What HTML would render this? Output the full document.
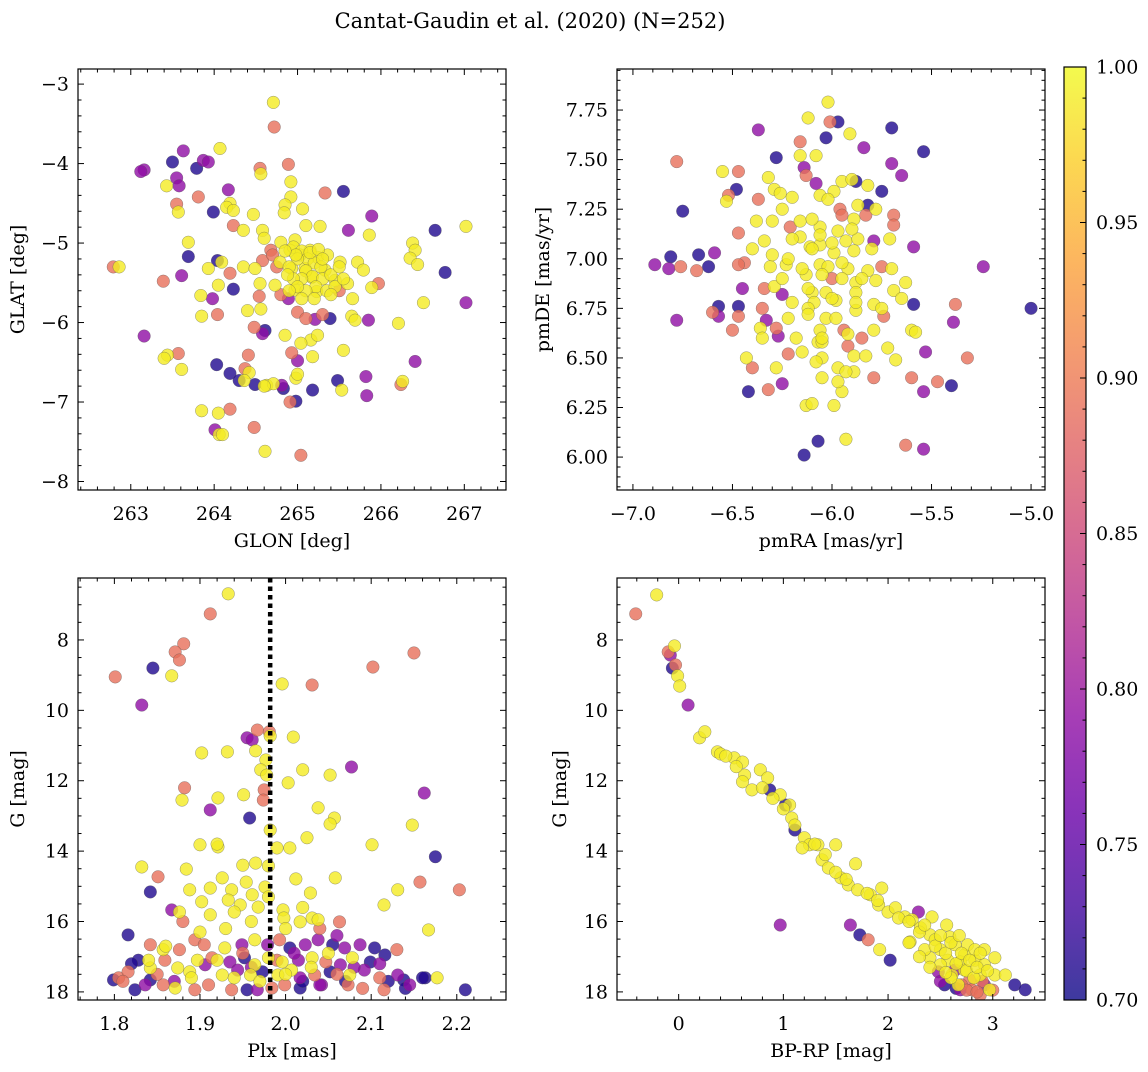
<!DOCTYPE html>
<html><head><meta charset="utf-8">
<style>
html,body{margin:0;padding:0;background:#fff;}
svg text{font-family:"DejaVu Serif","Liberation Serif",serif;fill:#000;}
</style></head>
<body>
<svg id="fig" xmlns="http://www.w3.org/2000/svg" width="1148" height="1067" viewBox="0 0 1148 1067">
<rect width="1148" height="1067" fill="#fff"/>
<text x="530" y="28" font-size="21" text-anchor="middle">Cantat-Gaudin et al. (2020) (N=252)</text>
<g id="layer"></g>
</svg>
<script>
// ---- Panel 1: GLON / GLAT ----
const p1Lon=[264.71,264.72,263.63,263.50,263.79,263.16,263.55,264.07,263.87,263.93,264.55,264.89,264.56,264.17,263.43,263.58,264.92,265.33,265.55,264.92,263.81,264.19,263.55,263.57,263.99,264.85,264.15,264.23,264.47,264.84,265.06,265.27,265.89,265.61,264.23,263.69,264.35,264.58,265.10,265.86,266.65,267.02,266.38,266.41,264.60,264.80,264.97,264.68,264.91,265.03,265.15,265.24,265.36,265.51,265.72,264.79,264.58,264.09,264.04,263.69,262.79,262.86,263.39,263.61,264.35,264.49,263.93,264.19,264.93,265.09,265.17,265.33,265.45,265.60,265.79,265.97,266.35,266.44,266.77,264.55,264.73,264.97,265.23,264.23,263.84,263.98,264.05,264.54,264.89,265.66,266.51,267.02,265.89,263.85,264.04,264.56,264.40,265.00,265.10,265.39,265.65,265.69,266.21,265.85,265.21,263.16,264.48,264.58,264.61,264.85,265.16,265.24,265.55,263.57,263.44,263.61,264.03,264.41,264.93,265.00,265.04,265.18,266.41,264.37,264.42,264.19,264.36,264.30,264.49,264.63,264.71,264.81,264.83,264.98,265.00,265.18,265.48,265.53,265.82,265.83,266.26,266.24,264.98,264.91,263.85,264.05,264.19,264.01,264.06,264.10,264.48,264.61,265.04,
264.95,265.05,265.12,265.20,265.28,265.00,264.90,265.10,265.18,265.30,265.40,265.05,264.95,265.22,265.35,265.45,265.10,264.98,265.15,265.25,264.85,264.88,265.00,265.30,265.50,265.40,265.20,265.05,264.90,265.55,264.70,264.75,265.50,264.80,265.30,263.40,264.60,263.12];
const p1Lat=[-3.23,-3.54,-3.84,-3.98,-4.06,-4.08,-4.18,-3.81,-3.96,-3.98,-4.06,-4.01,-4.13,-4.33,-4.28,-4.28,-4.23,-4.37,-4.35,-4.42,-4.42,-4.50,-4.51,-4.61,-4.61,-4.52,-4.55,-4.59,-4.64,-4.62,-4.57,-4.79,-4.66,-4.84,-4.78,-4.99,-4.84,-4.84,-4.78,-4.90,-4.84,-4.79,-5.00,-5.09,-4.94,-4.99,-4.96,-5.09,-5.09,-5.15,-5.09,-5.18,-5.15,-5.24,-5.24,-5.24,-5.22,-5.24,-5.22,-5.17,-5.30,-5.30,-5.48,-5.41,-5.30,-5.32,-5.32,-5.38,-5.32,-5.32,-5.43,-5.34,-5.47,-5.51,-5.34,-5.51,-5.19,-5.27,-5.37,-5.51,-5.53,-5.59,-5.61,-5.58,-5.66,-5.70,-5.53,-5.67,-5.70,-5.70,-5.75,-5.75,-5.56,-5.92,-5.90,-5.83,-5.85,-5.87,-5.95,-5.95,-5.92,-5.97,-6.01,-5.97,-5.96,-6.17,-6.06,-6.14,-6.10,-6.16,-6.22,-6.16,-6.35,-6.39,-6.41,-6.59,-6.53,-6.41,-6.38,-6.48,-6.26,-6.43,-6.49,-6.58,-6.63,-6.64,-6.73,-6.73,-6.78,-6.79,-6.77,-6.79,-6.83,-6.70,-6.65,-6.85,-6.73,-6.85,-6.68,-6.92,-6.74,-6.78,-6.99,-7.00,-7.11,-7.14,-7.09,-7.35,-7.41,-7.41,-7.32,-7.62,-7.67,
-5.05,-5.10,-5.20,-5.25,-5.30,-5.20,-5.30,-5.35,-5.42,-5.45,-5.40,-5.45,-5.45,-5.55,-5.60,-5.55,-5.60,-5.15,-5.12,-5.08,-5.10,-5.40,-5.55,-5.20,-5.30,-5.65,-5.70,-5.70,-5.60,-5.45,-5.15,-5.30,-5.60,-5.65,-5.90,-6.45,-6.80,-4.10];
const p1Prob=[.99,.89,.79,.71,.71,.79,.79,.99,.79,.79,.89,.89,.99,.79,.99,.79,.99,.89,.71,.99,.89,.99,.89,.99,.71,.99,.99,.99,.99,.99,.99,.99,.79,.79,.89,.99,.99,.99,.99,.99,.71,.99,.99,.99,.99,.99,.99,.89,.99,.99,.99,.99,.99,.99,.99,.99,.89,.99,.71,.71,.89,.99,.89,.79,.99,.99,.99,.89,.99,.99,.99,.99,.99,.99,.99,.89,.99,.99,.71,.99,.99,.99,.99,.71,.99,.79,.99,.89,.79,.99,.99,.79,.99,.99,.89,.99,.99,.89,.89,.71,.99,.99,.99,.79,.79,.79,.89,.79,.71,.99,.99,.99,.99,.89,.99,.99,.71,.89,.89,.79,.99,.99,.79,.89,.99,.71,.99,.71,.71,.99,.99,.79,.71,.99,.99,.71,.71,.99,.79,.79,.99,.89,.71,.89,.99,.99,.89,.79,.99,.99,.89,.99,.89,
.99,.99,.99,.99,.99,.99,.99,.99,.99,.99,.99,.99,.99,.99,.99,.99,.99,.99,.99,.99,.99,.99,.99,.99,.99,.99,.99,.99,.99,.99,.89,.89,.89,.89,.89,.99,.99,.79];
const p1XTicks=[263,264,265,266,267];
const p1YTicks=[-3,-4,-5,-6,-7,-8];

// ---- Panel 2: pmRA / pmDE ----
const p2Pmra=[-6.02,-5.97,-6.01,-5.91,-6.12,-6.37,-5.70,-6.03,-6.16,-5.84,-6.78,-6.28,-6.16,-6.08,-5.54,-5.70,-6.14,-6.13,-5.65,-6.55,-6.47,-6.32,-6.48,-6.08,-5.95,-5.88,-5.82,-5.75,-6.52,-6.53,-6.29,-6.26,-6.20,-6.06,-5.99,-6.37,-5.96,-5.87,-5.82,-6.75,-6.38,-6.30,-6.21,-6.16,-5.89,-5.83,-5.69,-5.69,-6.06,-5.97,-6.47,-6.34,-6.16,-5.93,-5.87,-5.79,-5.71,-6.11,-6.06,-5.99,-5.89,-5.59,-6.59,-6.67,-6.81,-6.44,-6.31,-6.23,-6.06,-6.02,-5.92,-5.82,-5.75,-6.89,-6.82,-6.68,-6.76,-5.24,-6.62,-6.47,-6.13,-5.95,-5.88,-5.63,-5.78,-6.29,-6.34,-6.25,-6.10,-6.03,-5.88,-5.69,-6.09,-5.98,-5.65,-5.38,-6.57,-6.47,-6.57,-6.47,-6.12,-5.88,-5.79,-5.59,-5.00,-6.78,-6.60,-6.33,-6.22,-6.03,-5.74,-5.39,-6.50,-6.36,-6.28,-6.06,-5.94,-5.79,-5.60,-5.58,-6.27,-6.07,-6.05,-5.92,-5.72,-6.43,-6.40,-6.15,-6.05,-5.89,-5.83,-5.53,-5.32,-5.97,-5.89,-5.68,-6.05,-5.79,-5.93,-5.60,-5.47,-5.40,-6.32,-6.25,-6.42,-5.95,-5.54,-6.13,-6.10,-5.99,-6.07,-5.93,-6.14,-5.63,-5.54,
-6.10,-6.00,-5.95,-6.05,-6.15,-6.20,-5.90,-6.10,-5.85,-6.25,-6.00,-6.12,-5.98,-6.20,-6.30,-5.80,-5.75,-6.05,-5.92,-6.18,-6.35,-6.25,-6.02,-5.90,-6.40,-6.08,-5.97,-6.22,-5.85,-6.45,-6.00,-5.70,-6.35,-6.28,-5.78,-6.12,-5.88,-6.22,-5.95,-6.06];
const p2Pmde=[7.79,7.69,7.69,7.63,7.71,7.65,7.66,7.61,7.59,7.56,7.49,7.51,7.52,7.52,7.54,7.48,7.46,7.42,7.42,7.44,7.44,7.41,7.35,7.38,7.39,7.39,7.37,7.34,7.32,7.29,7.35,7.33,7.31,7.32,7.34,7.30,7.25,7.27,7.27,7.24,7.19,7.19,7.16,7.19,7.20,7.22,7.22,7.17,7.16,7.14,7.13,7.09,7.11,7.09,7.10,7.09,7.10,7.06,7.07,7.03,7.04,7.06,7.03,7.02,7.01,6.98,6.96,6.97,6.97,6.96,6.95,6.94,6.96,6.97,6.95,6.94,6.96,6.96,6.96,6.97,6.92,6.90,6.88,6.88,6.89,6.86,6.85,6.82,6.83,6.83,6.83,6.84,6.78,6.79,6.80,6.77,6.76,6.76,6.71,6.71,6.75,6.74,6.77,6.77,6.75,6.69,6.73,6.69,6.70,6.70,6.71,6.68,6.64,6.65,6.65,6.64,6.64,6.64,6.64,6.63,6.61,6.58,6.58,6.56,6.55,6.50,6.45,6.53,6.50,6.51,6.51,6.53,6.50,6.45,6.43,6.49,6.40,6.40,6.43,6.40,6.38,6.36,6.34,6.37,6.33,6.33,6.33,6.26,6.27,6.26,6.08,6.09,6.01,6.06,6.04,
7.05,7.08,6.98,6.92,6.95,7.10,7.15,7.20,6.90,6.90,6.80,6.72,6.70,6.78,7.02,7.05,6.75,6.60,6.62,6.60,6.75,7.25,7.30,7.40,7.05,6.48,6.38,6.52,6.60,6.85,6.90,6.95,6.60,6.45,7.25,6.85,6.78,7.00,7.22,7.12];
const p2Prob=[.99,.71,.89,.99,.99,.79,.71,.71,.89,.79,.89,.71,.99,.99,.71,.79,.79,.89,.79,.99,.89,.99,.71,.79,.99,.71,.99,.71,.89,.99,.99,.99,.99,.99,.99,.89,.89,.99,.71,.71,.99,.99,.89,.99,.99,.89,.89,.89,.99,.99,.89,.99,.99,.99,.99,.79,.99,.99,.99,.99,.99,.79,.79,.71,.71,.89,.99,.99,.99,.99,.99,.99,.89,.79,.79,.89,.89,.79,.71,.89,.99,.99,.99,.99,.99,.99,.89,.79,.99,.99,.99,.99,.99,.99,.99,.89,.71,.71,.79,.89,.99,.99,.99,.71,.71,.79,.89,.79,.99,.99,.89,.79,.89,.99,.89,.99,.89,.99,.99,.99,.79,.99,.99,.89,.99,.99,.89,.99,.99,.99,.99,.79,.89,.99,.99,.99,.99,.89,.99,.89,.89,.71,.89,.79,.71,.99,.79,.99,.99,.99,.71,.99,.71,.89,.79,
.99,.99,.99,.99,.99,.99,.99,.99,.99,.99,.99,.99,.99,.99,.99,.99,.99,.99,.99,.99,.89,.99,.99,.99,.99,.99,.99,.89,.89,.79,.89,.99,.99,.99,.99,.99,.99,.99,.89,.99];
const p2XTicks=[-7.0,-6.5,-6.0,-5.5,-5.0];
const p2YTicks=[6.00,6.25,6.50,6.75,7.00,7.25,7.50,7.75];

// ---- Panel 3: Plx / G ----
const p3Plx=[1.933,1.912,1.845,1.801,1.881,1.871,1.876,1.867,1.832,2.150,2.102,1.996,2.031,1.967,1.981,1.982,1.955,1.961,2.009,1.902,1.932,1.965,1.977,1.971,2.020,2.003,1.975,1.978,2.052,2.077,2.038,2.057,2.052,1.882,1.879,1.921,1.951,1.974,1.912,1.958,1.900,1.982,2.025,2.005,1.990,2.101,2.148,2.162,2.175,1.921,1.832,1.851,1.884,1.926,1.954,1.965,1.980,2.012,2.058,1.842,1.888,1.912,1.937,1.961,1.976,2.029,2.131,2.203,2.115,2.157,1.902,1.933,1.947,1.968,1.997,1.867,1.876,1.912,1.940,1.998,2.031,2.038,2.017,2.063,2.167,1.816,1.842,1.857,1.876,1.894,1.905,1.929,1.949,1.964,1.979,1.993,2.005,2.023,2.038,2.055,2.069,2.087,2.104,2.116,1.897,1.914,1.935,1.952,1.964,1.980,1.996,2.015,2.031,2.047,2.064,2.078,2.099,1.828,1.842,1.859,1.874,1.888,1.906,1.926,1.944,1.959,1.973,1.991,2.007,2.017,2.034,2.052,2.075,2.092,2.110,2.131,2.163,2.177,2.138,1.799,1.805,1.816,1.836,1.842,1.857,1.871,1.824,1.894,1.937,1.955,1.967,1.984,1.999,2.017,2.042,2.073,2.115,2.145,2.210,
1.82,1.85,1.87,1.89,1.91,1.92,1.94,1.95,1.96,1.97,1.99,2.00,2.01,2.02,2.03,2.04,2.05,2.06,2.07,2.08,2.09,2.11,2.12,2.14,1.93,1.96,2.00,2.02,1.90,1.88,1.98,2.04,1.95,1.92,1.86,1.84,2.13,2.16,1.81,2.06];
const p3G=[6.69,7.26,8.80,9.05,8.11,8.34,8.57,9.02,9.85,8.37,8.77,9.25,9.28,10.56,10.61,10.73,10.78,10.84,10.76,11.21,11.18,11.15,11.41,11.69,11.69,12.06,12.26,11.84,11.84,11.61,12.77,13.06,13.23,12.20,12.55,12.49,12.40,12.55,12.83,13.06,13.82,13.40,13.62,13.91,13.91,13.82,13.26,12.35,14.16,13.88,14.45,14.73,14.51,14.76,14.88,14.34,14.42,14.79,14.76,15.16,15.10,15.05,15.10,15.24,15.02,15.19,15.10,15.10,15.53,14.88,15.44,15.39,15.53,15.59,15.67,15.67,15.73,15.81,15.73,15.90,15.90,15.95,16.01,16.01,16.24,16.38,16.66,16.80,16.80,16.52,16.66,16.75,16.66,16.52,16.66,16.52,16.75,16.66,16.52,16.66,16.75,16.66,16.75,16.95,17.10,17.03,17.15,17.03,17.23,17.03,17.15,17.10,17.03,17.15,17.23,17.03,17.15,17.10,17.32,17.10,17.32,17.43,17.23,17.52,17.38,17.52,17.43,17.52,17.38,17.60,17.52,17.43,17.52,17.38,17.60,17.52,17.60,17.60,17.66,17.66,17.60,17.43,17.80,17.66,17.80,17.89,17.94,17.94,17.94,17.94,17.94,17.89,17.80,17.89,17.80,17.80,17.94,17.80,17.94,
17.2,17.5,17.7,17.6,17.8,17.1,17.6,16.9,17.3,17.7,17.1,17.5,16.9,17.7,17.3,17.8,16.9,17.5,17.7,17.3,17.9,17.2,17.7,17.9,16.2,16.0,16.2,15.6,16.3,16.0,15.3,16.2,14.4,13.8,16.7,17.1,16.8,17.6,17.7,16.4];
const p3Prob=[.99,.89,.71,.89,.89,.89,.89,.99,.79,.89,.89,.99,.89,.89,.89,.99,.79,.79,.99,.99,.99,.99,.99,.99,.99,.99,.89,.99,.99,.79,.99,.99,.99,.89,.99,.99,.99,.89,.79,.71,.99,.99,.99,.99,.99,.99,.99,.79,.71,.99,.99,.89,.99,.99,.99,.99,.99,.99,.99,.71,.99,.99,.99,.99,.99,.99,.99,.89,.99,.89,.99,.99,.99,.99,.99,.79,.99,.99,.99,.99,.99,.99,.99,.89,.99,.71,.89,.99,.89,.89,.89,.99,.79,.99,.79,.89,.71,.79,.79,.71,.79,.79,.71,.71,.99,.89,.79,.71,.99,.99,.99,.79,.99,.89,.79,.99,.71,.71,.99,.89,.99,.99,.79,.99,.79,.99,.71,.99,.99,.79,.89,.71,.99,.79,.89,.79,.71,.99,.71,.71,.89,.89,.79,.71,.89,.99,.71,.89,.89,.71,.79,.89,.89,.71,.79,.89,.89,.79,.71,
.71,.89,.79,.99,.89,.99,.99,.89,.79,.99,.89,.99,.79,.71,.99,.79,.99,.89,.71,.79,.89,.79,.71,.71,.99,.99,.99,.99,.99,.89,.99,.89,.99,.99,.99,.99,.89,.71,.89,.79];
const p3XTicks=[1.8,1.9,2.0,2.1,2.2];
const p3YTicks=[8,10,12,14,16,18];
const p3MeanPlx=[1.982];

// ---- Panel 4: BP-RP / G ----
const p4Color=[-0.41,-0.21,-0.10,-0.08,-0.04,-0.06,-0.03,-0.01,0.01,0.09,0.20,0.25,0.37,0.40,0.53,0.61,0.63,0.61,0.78,0.85,0.70,0.87,0.97,1.06,1.02,1.08,1.11,1.11,1.20,1.25,1.18,1.33,1.37,1.50,1.43,1.55,1.69,1.62,1.71,1.94,1.83,1.91,2.00,2.07,2.16,2.23,2.31,2.40,2.42,2.56,2.59,2.29,0.97,1.64,1.73,1.81,1.92,2.02,2.45,2.50,2.64,2.73,2.69,2.57,2.50,2.48,2.61,2.73,2.83,2.92,2.88,2.78,2.67,2.80,2.92,3.02,3.12,2.97,3.21,3.31,2.88,2.76,2.83,2.92,2.54,2.69,2.40,2.64,2.35,3.02,2.21,
2.10,2.20,2.30,2.35,2.45,2.50,2.55,2.60,2.65,2.70,2.75,2.78,2.82,2.85,2.90,2.95,2.60,2.70,2.75,2.85,2.40,2.55,2.30,2.20,1.80,1.90,1.50,1.60,1.30,1.40,0.90,0.80,1.00,0.55,0.45,2.65,2.50,3.00,2.88,2.68];
const p4G=[7.26,6.72,8.34,8.43,8.17,8.80,8.71,9.02,9.31,9.85,10.78,10.61,11.18,11.24,11.35,11.47,11.84,12.03,11.69,11.92,12.26,12.26,12.40,12.69,12.69,13.06,13.26,13.40,13.62,13.82,13.91,13.82,14.25,13.82,14.48,14.76,14.36,14.96,15.10,15.05,15.24,15.53,15.73,15.61,15.87,15.95,16.18,16.38,15.87,16.10,16.44,15.73,16.10,16.10,16.38,16.52,16.80,17.10,16.52,16.80,16.66,16.95,17.15,17.10,17.23,17.43,17.52,17.38,17.10,17.23,17.52,17.66,17.80,17.94,17.80,17.52,17.52,17.94,17.80,17.94,18.09,16.66,16.80,16.80,17.80,17.94,17.03,17.38,16.80,17.03,16.58,
15.9,16.0,16.3,16.1,16.7,16.4,16.9,16.6,17.2,16.9,17.4,17.1,17.6,17.3,17.7,17.4,17.6,17.8,17.95,18.0,17.3,17.45,17.0,16.6,15.2,15.4,14.6,14.8,13.8,14.1,12.5,12.2,12.8,11.6,11.3,17.9,17.7,17.95,16.9,16.4];
const p4Prob=[.89,.99,.89,.79,.99,.71,.89,.99,.99,.79,.99,.99,.99,.99,.99,.99,.99,.99,.99,.99,.99,.71,.99,.99,.71,.99,.99,.71,.99,.99,.99,.99,.99,.99,.99,.99,.99,.99,.99,.99,.99,.99,.99,.99,.99,.99,.99,.99,.99,.99,.99,.79,.79,.79,.71,.89,.99,.71,.99,.99,.99,.99,.99,.99,.99,.79,.99,.99,.99,.99,.99,.89,.99,.89,.79,.99,.99,.99,.71,.71,.89,.99,.99,.99,.71,.79,.99,.79,.99,.99,.99,
.99,.99,.99,.99,.99,.99,.99,.99,.99,.99,.99,.99,.99,.99,.89,.99,.99,.89,.89,.89,.99,.99,.99,.99,.99,.99,.99,.99,.99,.99,.99,.99,.99,.99,.99,.71,.79,.89,.99,.99];
const p4XTicks=[0,1,2,3];
const p4YTicks=[8,10,12,14,16,18];

// ---- Colorbar ----
const cbTicks=[0.70,0.75,0.80,0.85,0.90,0.95,1.00];
const cbRange=[0.70,1.00];

const NS="http://www.w3.org/2000/svg";
const layer=document.getElementById('layer');
function mk(tag,attrs,parent){const e=document.createElementNS(NS,tag);for(const k in attrs)e.setAttribute(k,attrs[k]);(parent||layer).appendChild(e);return e;}
const plasma=[[13,8,135],[65,4,157],[106,0,168],[143,13,164],[177,42,144],[204,71,120],[225,100,98],[242,132,75],[252,166,54],[252,206,37],[240,249,33]];
function cmap(p){let t=(p-cbRange[0])/(cbRange[1]-cbRange[0]);t=Math.max(0,Math.min(1,t))*10;const i=Math.min(9,Math.floor(t)),f=t-i;const a=plasma[i],b=plasma[i+1];return 'rgb('+[0,1,2].map(k=>Math.round(a[k]+(b[k]-a[k])*f)).join(',')+')';}
function fmtNum(v,d){const s=Math.abs(v).toFixed(d);return (v<0?'\u2212':'')+s;}
const TF=19;

function panel(cfg){
  const {name,x0,y0,w,h,xr,yr}=cfg;
  const sx=v=>x0+(v-xr[0])/(xr[1]-xr[0])*w;
  const sy=v=>y0+h-(v-yr[0])/(yr[1]-yr[0])*h;
  const g=mk('g',{});
  
  
  const clipId='clip-'+name;
  const cp=mk('clipPath',{id:clipId},g);mk('rect',{x:x0,y:y0,width:w,height:h},cp);
  const pts=mk('g',{'clip-path':'url(#'+clipId+')'},g);
  
  
  const n=Math.min(cfg.xs.length,cfg.ys.length,cfg.ps.length);
  const idx=[...Array(n).keys()].sort((a,b)=>cfg.ps[a]-cfg.ps[b]);
  idx.forEach(i=>{const c=mk('circle',{cx:sx(cfg.xs[i]),cy:sy(cfg.ys[i]),r:6.3,fill:cmap(cfg.ps[i]),'fill-opacity':0.8,stroke:'#555','stroke-opacity':0.6,'stroke-width':0.5},pts);
    
    });
  if(cfg.vline){cfg.vline.forEach(v=>{const l=mk('line',{x1:sx(v),x2:sx(v),y1:y0,y2:y0+h,stroke:'#000','stroke-width':4.5,'stroke-dasharray':'4.5,4'},pts);
    
    });}
  const tk=mk('g',{stroke:'#000','stroke-width':1},g);
  const lo=Math.min(xr[0],xr[1]),hi=Math.max(xr[0],xr[1]);
  for(let k=Math.ceil(lo/cfg.xminor-1e-6);k*cfg.xminor<=hi+1e-9;k++){const v=k*cfg.xminor;const x=sx(v);
    const major=cfg.xticks.some(t=>Math.abs(t-v)<1e-6);const L=major?6:3.5;
    mk('line',{x1:x,x2:x,y1:y0+h,y2:y0+h-L},tk);mk('line',{x1:x,x2:x,y1:y0,y2:y0+L},tk);}
  const ylo=Math.min(yr[0],yr[1]),yhi=Math.max(yr[0],yr[1]);
  for(let k=Math.ceil(ylo/cfg.yminor-1e-6);k*cfg.yminor<=yhi+1e-9;k++){const v=k*cfg.yminor;const y=sy(v);
    const major=cfg.yticks.some(t=>Math.abs(t-v)<1e-6);const L=major?6:3.5;
    mk('line',{x1:x0,x2:x0+L,y1:y,y2:y},tk);mk('line',{x1:x0+w,x2:x0+w-L,y1:y,y2:y},tk);}
  const fr=mk('rect',{x:x0,y:y0,width:w,height:h,fill:'none',stroke:'#000','stroke-width':1.2},g);
  
  
  cfg.xticks.forEach(v=>{const t=mk('text',{x:sx(v),y:y0+h+30,'font-size':TF,'text-anchor':'middle'},g);t.textContent=fmtNum(v,cfg.xd);
    
    });
  cfg.yticks.forEach(v=>{const t=mk('text',{x:x0-9,y:sy(v)+6.5,'font-size':TF,'text-anchor':'end'},g);t.textContent=fmtNum(v,cfg.yd);
    
    });
  const xt=mk('text',{x:x0+w/2,y:y0+h+57,'font-size':TF,'text-anchor':'middle'},g);xt.textContent=cfg.xlabel;
  
  
  const yt=mk('text',{x:0,y:0,'font-size':TF,'text-anchor':'middle',transform:'translate('+cfg.ylx+','+(y0+h/2)+') rotate(-90)'},g);yt.textContent=cfg.ylabel;
  
  
}

panel({name:'sky-position-panel',x0:78,y0:69,w:428,h:421,xr:[262.367,267.5],yr:[-8.107,-2.81],xs:p1Lon,ys:p1Lat,ps:p1Prob,xticks:p1XTicks,xminor:0.2,yticks:p1YTicks,yminor:0.2,xd:0,yd:0,xlabel:'GLON [deg]',ylabel:'GLAT [deg]',ylx:24});
panel({name:'proper-motion-panel',x0:617,y0:69,w:428,h:421,xr:[-7.080,-4.930],yr:[5.834,7.957],xs:p2Pmra,ys:p2Pmde,ps:p2Prob,xticks:p2XTicks,xminor:0.1,yticks:p2YTicks,yminor:0.05,xd:1,yd:2,xlabel:'pmRA [mas/yr]',ylabel:'pmDE [mas/yr]',ylx:549});
panel({name:'parallax-panel',x0:78,y0:578,w:428,h:422,xr:[1.7575,2.2575],yr:[18.23,6.24],xs:p3Plx,ys:p3G,ps:p3Prob,xticks:p3XTicks,xminor:0.02,yticks:p3YTicks,yminor:0.5,xd:1,yd:0,xlabel:'Plx [mas]',ylabel:'G [mag]',ylx:24,vline:p3MeanPlx});
panel({name:'cmd-panel',x0:617,y0:578,w:428,h:422,xr:[-0.589,3.499],yr:[18.23,6.24],xs:p4Color,ys:p4G,ps:p4Prob,xticks:p4XTicks,xminor:0.2,yticks:p4YTicks,yminor:0.5,xd:0,yd:0,xlabel:'BP-RP [mag]',ylabel:'G [mag]',ylx:566});

(function(){
  const x0=1064,y0=67,w=22,h=933;
  const g=mk('g',{});
  
  
  const defs=mk('defs',{},g);const lg=mk('linearGradient',{id:'cbgrad',x1:0,y1:1,x2:0,y2:0},defs);
  for(let i=0;i<=20;i++){const p=cbRange[0]+(cbRange[1]-cbRange[0])*i/20;mk('stop',{offset:(i/20),'stop-color':cmap(p)},lg);}
  mk('rect',{x:x0,y:y0,width:w,height:h,fill:'url(#cbgrad)','fill-opacity':0.8},g);
  const sy=v=>y0+h-(v-cbRange[0])/(cbRange[1]-cbRange[0])*h;
  for(let k=70;k<=100;k++){const v=k/100,y=sy(v);const major=k%5===0;mk('line',{x1:x0+w,x2:x0+w-(major?6:3.5),y1:y,y2:y,stroke:'#000','stroke-width':1},g);}
  mk('rect',{x:x0,y:y0,width:w,height:h,fill:'none',stroke:'#000','stroke-width':1.2},g);
  cbTicks.forEach(v=>{const t=mk('text',{x:x0+w+10,y:sy(v)+6.5,'font-size':TF},g);t.textContent=v.toFixed(2);
    
    });
})();
</script>
</body></html>
